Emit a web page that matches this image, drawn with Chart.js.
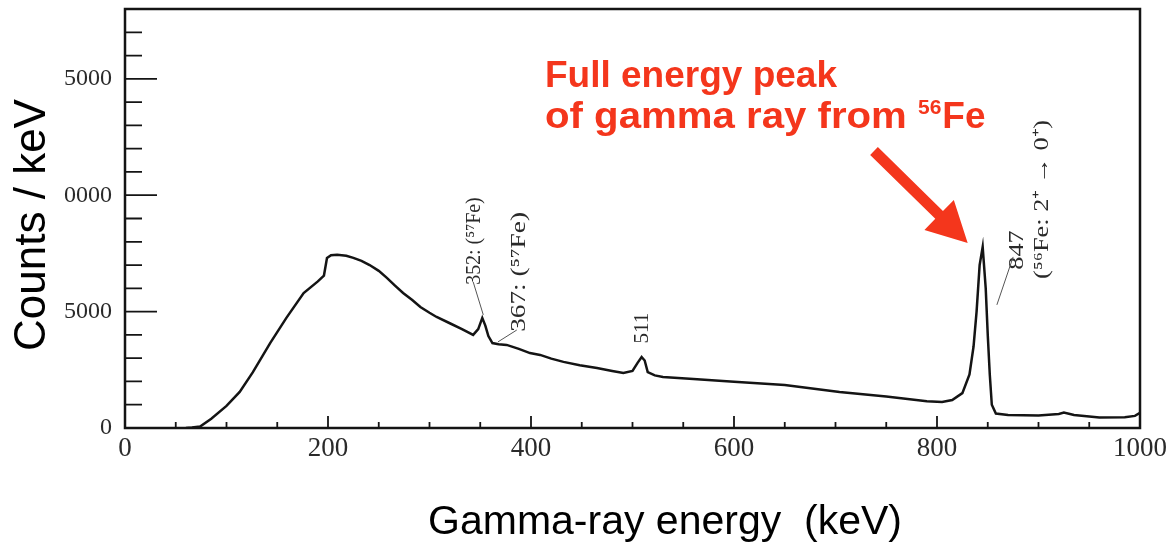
<!DOCTYPE html>
<html>
<head>
<meta charset="utf-8">
<script src="https://cdn.jsdelivr.net/npm/chart.js@4.4.1/dist/chart.umd.min.js"></script>
<style>
  html, body { margin: 0; padding: 0; background: #fff; }
  #wrap { width: 1175px; height: 546px; }
</style>
</head>
<body>
<div id="wrap"><canvas id="spectrum" width="1175" height="546"></canvas></div>
<script>
// spectrum (keV, counts/keV)
const energy = [60, 66, 74, 85, 100, 113, 126, 143, 159, 176, 190, 196, 199, 203, 209, 218, 225, 233, 241, 250,
  258, 266, 274, 283, 291, 300, 307, 320, 332, 343, 348, 352, 355, 358, 362, 368, 376, 388, 399, 409,
  420, 432, 448, 465, 480, 491, 500, 505, 509, 512, 515, 522, 530, 560, 600, 650, 704, 750, 790, 805,
  815, 825, 832, 836, 839, 842, 845, 848, 850, 852, 854, 858, 870, 900, 920, 925, 935, 960, 985, 995, 1000];
const counts = [0, 20, 60, 400, 950, 1550, 2400, 3650, 4730, 5800, 6300, 6550, 7300, 7420, 7440, 7400, 7310, 7180, 7000, 6750,
  6450, 6120, 5800, 5500, 5200, 4950, 4770, 4500, 4250, 4000, 4250, 4730, 4400, 3950, 3650, 3600, 3570, 3400, 3220, 3140,
  2980, 2840, 2700, 2580, 2450, 2360, 2450, 2800, 3050, 2900, 2400, 2260, 2190, 2100, 1990, 1850, 1550, 1350, 1150, 1120,
  1200, 1500, 2300, 3500, 5000, 7000, 7780, 6000, 4000, 2300, 1000, 620, 560, 540, 600, 660, 560, 450, 460, 520, 650];

const xTicks = [0, 200, 400, 600, 800, 1000];
const xTickLabels = ['0', '200', '400', '600', '800', '1000'];
const yTicks = [0, 5000, 10000, 15000];
// the left digit is cut off in the original figure
const yTickLabels = ['0', '5000', '0000', '5000'];

const peakNotes = ['352: (⁵⁷Fe)', '367: (⁵⁷Fe)', '511', '847', '(⁵⁶Fe: 2⁺ → 0⁺)'];
// where each note starts (data units) and how much it is stretched along its length
const notePos = [[344, 6150], [389, 4130], [510, 3630], [879, 6800], [904, 6400]];
const noteStretch = [0.95, 1.3, 1.0, 1.25, 1.25];
const leaders = [[[353, 4860], [343, 6280]], [[367.5, 3700], [386, 4210]], [[859, 5290], [875, 7350]]];

const INK = '#141414';

const decorations = {
  id: 'decorations',
  afterDraw(chart) {
    const { ctx, chartArea: a, scales } = chart;
    const xs = scales.x, ys = scales.y;
    ctx.save();

    // frame
    ctx.strokeStyle = INK;
    ctx.lineWidth = 2.5;
    ctx.strokeRect(a.left, a.top, a.right - a.left, a.bottom - a.top);

    // inward ticks
    ctx.lineWidth = 1.8;
    ctx.beginPath();
    for (let v = 50; v < 1000; v += 50) {
      const px = xs.getPixelForValue(v);
      const len = v % 200 === 0 ? 12 : 6;
      ctx.moveTo(px, a.bottom);
      ctx.lineTo(px, a.bottom - len);
    }
    for (let v = 1000; v < 18000; v += 1000) {
      const py = ys.getPixelForValue(v);
      const len = v % 5000 === 0 ? 32 : 17;
      ctx.moveTo(a.left, py);
      ctx.lineTo(a.left + len, py);
    }
    ctx.stroke();

    // axis titles
    ctx.fillStyle = '#000';
    ctx.font = '44px "Liberation Sans", Arial, sans-serif';
    ctx.textAlign = 'center';
    ctx.textBaseline = 'alphabetic';
    ctx.save();
    ctx.translate(45, 225);
    ctx.rotate(-Math.PI / 2);
    ctx.fillText('Counts / keV', 0, 0);
    ctx.restore();
    ctx.font = '41px "Liberation Sans", Arial, sans-serif';
    ctx.fillText('Gamma-ray energy  (keV)', 665, 534);

    // peak notes, vertical
    ctx.fillStyle = '#2a2a2a';
    ctx.font = '21px "Liberation Serif", "Times New Roman", serif';
    ctx.textAlign = 'left';
    ctx.textBaseline = 'middle';
    peakNotes.forEach((txt, i) => {
      const px = xs.getPixelForValue(notePos[i][0]);
      const py = ys.getPixelForValue(notePos[i][1]);
      ctx.save();
      ctx.translate(px, py);
      ctx.rotate(-Math.PI / 2);
      ctx.scale(noteStretch[i], 1);
      ctx.fillText(txt, 0, 0);
      ctx.restore();
    });
    ctx.strokeStyle = '#555';
    ctx.lineWidth = 1;
    ctx.beginPath();
    leaders.forEach(([p, q]) => {
      ctx.moveTo(xs.getPixelForValue(p[0]), ys.getPixelForValue(p[1]));
      ctx.lineTo(xs.getPixelForValue(q[0]), ys.getPixelForValue(q[1]));
    });
    ctx.stroke();

    // red callout
    const red = '#f4361c';
    ctx.fillStyle = red;
    ctx.textBaseline = 'alphabetic';
    const big = 'bold 37px "Liberation Sans", Arial, sans-serif';
    ctx.font = big;
    ctx.fillText('Full energy peak', 545, 87);
    // second line is a bit wider in the figure
    const l2 = 'of gamma ray from ';
    const sx = 373 / ctx.measureText(l2).width;
    ctx.save();
    ctx.translate(545, 128);
    ctx.scale(sx, 1);
    ctx.fillText(l2, 0, 0);
    ctx.restore();
    let tx = 918;
    ctx.font = 'bold 21px "Liberation Sans", Arial, sans-serif';
    ctx.fillText('56', tx, 114);
    tx += ctx.measureText('56').width + 1;
    ctx.font = big;
    ctx.fillText('Fe', tx, 128);

    // arrow pointing at the 847 keV peak
    const tail = [874, 151], tip = [xs.getPixelForValue(845) - 15, ys.getPixelForValue(7780) - 4];
    const dx = tip[0] - tail[0], dy = tip[1] - tail[1];
    const L = Math.hypot(dx, dy), ux = dx / L, uy = dy / L, nx = -uy, ny = ux;
    const hl = 40, hw = 21, sw = 5.5;
    const bx = tip[0] - ux * hl, by = tip[1] - uy * hl;
    ctx.beginPath();
    ctx.moveTo(tail[0] + nx * sw, tail[1] + ny * sw);
    ctx.lineTo(bx + nx * sw, by + ny * sw);
    ctx.lineTo(bx + nx * hw, by + ny * hw);
    ctx.lineTo(tip[0], tip[1]);
    ctx.lineTo(bx - nx * hw, by - ny * hw);
    ctx.lineTo(bx - nx * sw, by - ny * sw);
    ctx.lineTo(tail[0] - nx * sw, tail[1] - ny * sw);
    ctx.closePath();
    ctx.fill();

    ctx.restore();
  }
};

new Chart(document.getElementById('spectrum'), {
  type: 'line',
  data: {
    datasets: [{
      data: energy.map((e, i) => ({ x: e, y: counts[i] })),
      borderColor: INK,
      borderWidth: 2.5,
      pointRadius: 0,
      tension: 0,
      fill: false
    }]
  },
  options: {
    responsive: false,
    animation: false,
    devicePixelRatio: 1,
    layout: { padding: { top: 9, right: 35, left: 0, bottom: 0 } },
    plugins: { legend: { display: false }, tooltip: { enabled: false } },
    scales: {
      x: {
        type: 'linear',
        min: 0,
        max: 1000,
        grid: { display: false },
        border: { display: false },
        afterBuildTicks: s => { s.ticks = xTicks.map(v => ({ value: v })); },
        afterFit: s => { s.height = 118; },
        ticks: {
          autoSkip: false,
          maxRotation: 0,
          padding: -3,
          color: '#2a2a2a',
          font: { family: '"Liberation Serif", "Times New Roman", serif', size: 27 },
          callback: (v, i) => xTickLabels[i]
        }
      },
      y: {
        type: 'linear',
        min: 0,
        max: 18000,
        grid: { display: false },
        border: { display: false },
        afterBuildTicks: s => { s.ticks = yTicks.map(v => ({ value: v })); },
        afterFit: s => { s.width = 125; s.paddingTop = 0; s.paddingBottom = 0; },
        ticks: {
          autoSkip: false,
          padding: 5,
          color: '#2a2a2a',
          font: { family: '"Liberation Serif", "Times New Roman", serif', size: 24 },
          callback: (v, i) => yTickLabels[i]
        }
      }
    }
  },
  plugins: [decorations]
});
</script>
</body>
</html>
